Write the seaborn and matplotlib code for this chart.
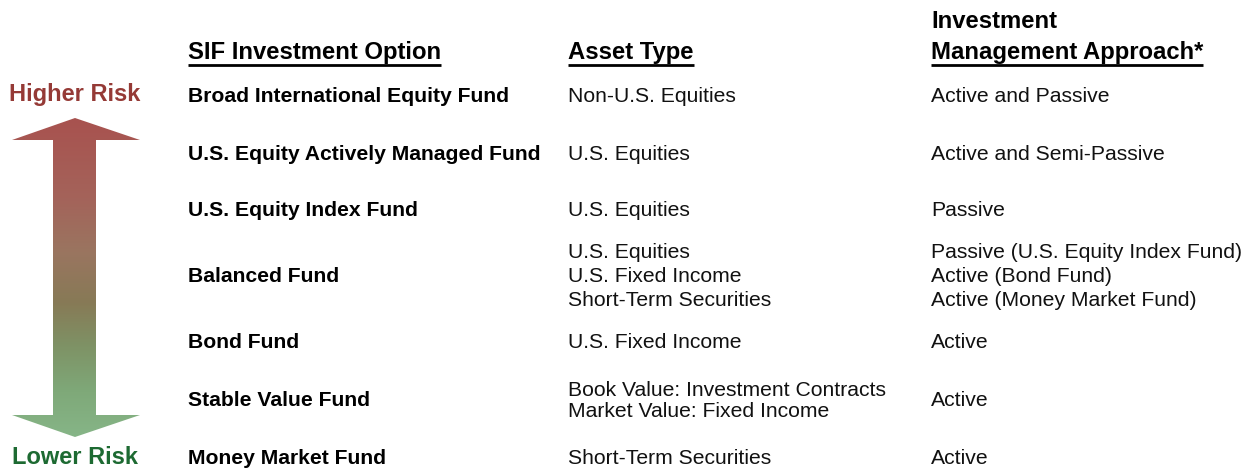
import numpy as np
import matplotlib
matplotlib.use("Agg")
import matplotlib.pyplot as plt
import seaborn as sns
from matplotlib.path import Path
from matplotlib.patches import PathPatch
from matplotlib.colors import LinearSegmentedColormap

sns.set_theme(style="white")
plt.rcParams['font.family'] = ['Liberation Sans', 'DejaVu Sans']

# ---- data ----
funds = ["Broad International Equity Fund", "U.S. Equity Actively Managed Fund",
         "U.S. Equity Index Fund", "Balanced Fund", "Bond Fund",
         "Stable Value Fund", "Money Market Fund"]
asset_types = [["Non-U.S. Equities"], ["U.S. Equities"], ["U.S. Equities"],
               ["U.S. Equities", "U.S. Fixed Income", "Short-Term Securities"],
               ["U.S. Fixed Income"],
               ["Book Value: Investment Contracts", "Market Value: Fixed Income"],
               ["Short-Term Securities"]]
approaches = [["Active and Passive"], ["Active and Semi-Passive"], ["Passive"],
              ["Passive (U.S. Equity Index Fund)", "Active (Bond Fund)", "Active (Money Market Fund)"],
              ["Active"], ["Active"], ["Active"]]
headers = ["SIF Investment Option", "Asset Type", "Management Approach*"]
header_top = "Investment"
risk_labels = ["Higher Risk", "Lower Risk"]

W, H = 1248, 470
fig = plt.figure(figsize=(W / 100, H / 100), dpi=100)
ax = fig.add_axes([0, 0, 1, 1])
ax.set_xlim(0, W)
ax.set_ylim(H, 0)
ax.axis("off")

row_y = [96, 154, 211, 277, 343, 401, 458]
col_x = [188, 568, 931]
fs = 15.2
hfs = 17.2
line_gap = [0, 0, 0, 24, 0, 21, 0]

# ---- arrow with gradient ----
verts = [(75, 118), (140, 140), (96, 140), (96, 415), (140, 415), (75, 437),
         (12, 415), (53, 415), (53, 140), (12, 140), (75, 118)]
path = Path(verts, [Path.MOVETO] + [Path.LINETO] * 9 + [Path.CLOSEPOLY])
patch = PathPatch(path, facecolor="none", edgecolor="none")
ax.add_patch(patch)
cmap = LinearSegmentedColormap.from_list(
    "risk", [(0.0, "#a8524f"), (0.25, "#a4635a"), (0.42, "#9a7560"),
             (0.58, "#877a56"), (0.72, "#7e9366"), (0.86, "#7fa979"),
             (1.0, "#86b587")])
grad = np.linspace(0, 1, 256).reshape(-1, 1)
im = ax.imshow(grad, cmap=cmap, extent=[10, 142, 437, 118], aspect="auto", zorder=1)
im.set_clip_path(patch)

ax.text(75, 95, risk_labels[0], color="#953a36", fontsize=17, fontweight="bold",
        ha="center", va="center")
ax.text(75, 458, risk_labels[1], color="#1d6a32", fontsize=17, fontweight="bold",
        ha="center", va="center")

# ---- headers ----
ax.text(col_x[2], 22, header_top, fontsize=hfs, fontweight="bold", ha="left",
        va="center", color="black")
fig.canvas.draw()
renderer = fig.canvas.get_renderer()
inv = ax.transData.inverted()
for x, h in zip(col_x, headers):
    t = ax.text(x, 53, h, fontsize=hfs, fontweight="bold", ha="left", va="center",
                color="black")
    bb = t.get_window_extent(renderer=renderer)
    (x0, _), (x1, _) = inv.transform([(bb.x0, bb.y0), (bb.x1, bb.y1)])
    ax.plot([x0, x1], [65, 65], color="black", lw=2.0, solid_capstyle="butt")

# ---- rows ----
for i, y in enumerate(row_y):
    ax.text(col_x[0], y, funds[i], fontsize=fs, fontweight="bold", ha="left",
            va="center", color="black")
    for col, items in ((1, asset_types[i]), (2, approaches[i])):
        n = len(items)
        g = line_gap[i]
        for k, s in enumerate(items):
            yy = y + (k - (n - 1) / 2) * g
            ax.text(col_x[col], yy, s, fontsize=fs, ha="left", va="center",
                    color="#111111")

fig.savefig("out.png", dpi=100)
